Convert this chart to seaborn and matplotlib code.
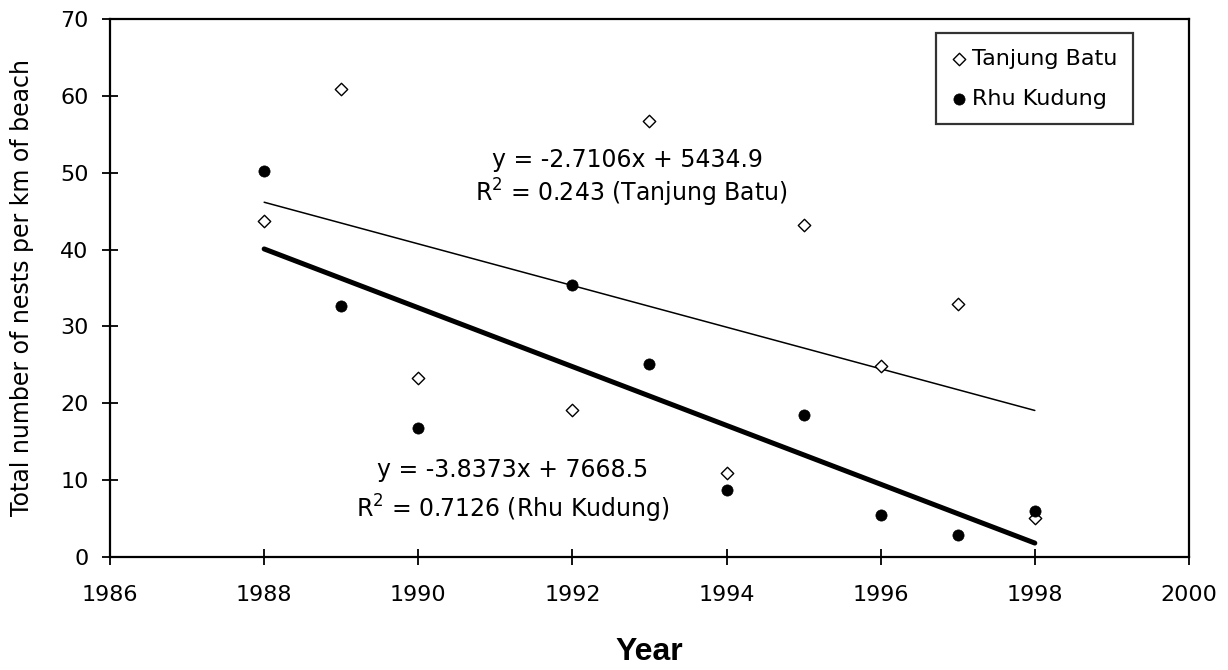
import matplotlib
matplotlib.use("Agg")
import matplotlib.pyplot as plt
import seaborn as sns
import pandas as pd

# ---- data ----
years_tb = [1988, 1989, 1990, 1992, 1993, 1994, 1995, 1996, 1997, 1998]
nests_tb = [43.7, 60.9, 23.3, 19.1, 56.7, 10.9, 43.2, 24.9, 32.9, 5.1]
years_rk = [1988, 1989, 1990, 1992, 1993, 1994, 1995, 1996, 1997, 1998]
nests_rk = [50.2, 32.7, 16.8, 35.4, 25.1, 8.7, 18.5, 5.5, 2.9, 6.0]
label_tb = "Tanjung Batu"
label_rk = "Rhu Kudung"
eq_tb = ["y = -2.7106x + 5434.9", "R$^2$ = 0.243 (Tanjung Batu)"]
eq_rk = ["y = -3.8373x + 7668.5", "R$^2$ = 0.7126 (Rhu Kudung)"]
x_ticks = [1986, 1988, 1990, 1992, 1994, 1996, 1998, 2000]
y_ticks = [0, 10, 20, 30, 40, 50, 60, 70]

sns.set_theme(style="white")
plt.rcParams["font.family"] = ["DejaVu Sans"]
plt.rcParams["text.color"] = "black"
plt.rcParams["axes.labelcolor"] = "black"
plt.rcParams["mathtext.fontset"] = "dejavusans"

df_tb = pd.DataFrame({"year": years_tb, "nests": nests_tb})
df_rk = pd.DataFrame({"year": years_rk, "nests": nests_rk})

fig = plt.figure(figsize=(12.28, 6.70), dpi=100)
ax = fig.add_axes([0.0896, 0.1687, 0.8786, 0.8029])

sns.regplot(data=df_tb, x="year", y="nests", scatter=False, ci=None, ax=ax,
            line_kws=dict(color="black", lw=1.1))
sns.regplot(data=df_rk, x="year", y="nests", scatter=False, ci=None, ax=ax,
            line_kws=dict(color="black", lw=3.6))

sns.scatterplot(data=df_tb, x="year", y="nests", marker="D", s=40,
                facecolor="white", edgecolor="black", linewidth=1.0,
                ax=ax, label=label_tb, zorder=4)
sns.scatterplot(data=df_rk, x="year", y="nests", marker="o", s=65,
                color="black", edgecolor="black", linewidth=0.5,
                ax=ax, label=label_rk, zorder=5)

ax.set_xlim(x_ticks[0], x_ticks[-1])
ax.set_ylim(y_ticks[0], y_ticks[-1])
ax.set_xticks(x_ticks)
ax.set_yticks(y_ticks)
ax.tick_params(axis="both", which="major", bottom=True, left=True,
               direction="inout", length=11, width=1.3,
               labelsize=16, color="black", labelcolor="black")
ax.tick_params(axis="x", pad=15)
ax.tick_params(axis="y", pad=10)
for sp in ax.spines.values():
    sp.set_color("black")
    sp.set_linewidth(1.6)

ax.set_xlabel("Year", fontsize=23, fontweight="bold", family="Liberation Sans",
              labelpad=23)
ax.set_ylabel("Total number of nests per km of beach", fontsize=17, labelpad=19)

ax.text(1992.71, 51.6, eq_tb[0], ha="center", va="center", fontsize=17)
ax.text(1992.77, 47.4, eq_tb[1], ha="center", va="center", fontsize=17)
ax.text(1991.22, 11.3, eq_rk[0], ha="center", va="center", fontsize=17)
ax.text(1991.22, 6.3, eq_rk[1], ha="center", va="center", fontsize=17)

leg = ax.legend(loc="upper left", bbox_to_anchor=(0.766, 0.974), frameon=True,
                fancybox=False, edgecolor="black", fontsize=16,
                handletextpad=0.3, handlelength=0.6, borderpad=0.7,
                labelspacing=0.9, borderaxespad=0)
leg.get_frame().set_linewidth(1.6)

fig.savefig("out.png", dpi=100)
